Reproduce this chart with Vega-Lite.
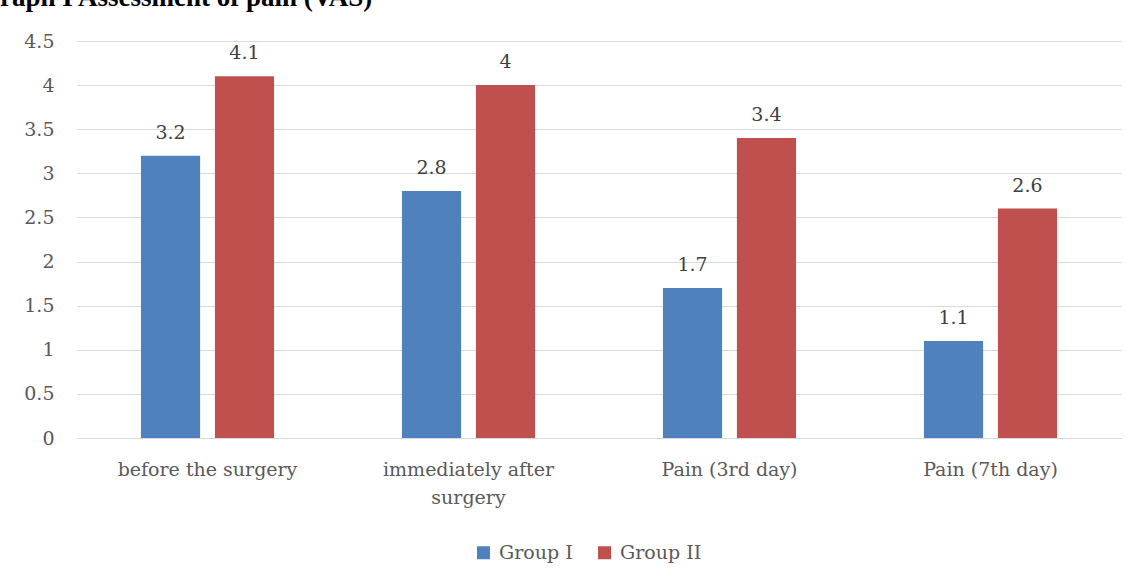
{
  "$schema": "https://vega.github.io/schema/vega-lite/v6.json",
  "autosize": {"type": "none"},
  "width": 1044,
  "height": 397,
  "padding": {"left": 77, "top": 41, "right": 19, "bottom": 142},
  "background": "white",
  "title": {
    "text": "Graph I Assessment of pain (VAS)",
    "anchor": "start",
    "frame": "group",
    "font": "Liberation Serif",
    "fontSize": 27,
    "fontWeight": "bold",
    "color": "black",
    "baseline": "alphabetic",
    "offset": 0,
    "dy": 1,
    "dx": -98
  },
  "config": {"view": {"stroke": null}},
  "data": {
    "values": [
      {"category": "before the surgery", "group": "Group I", "value": 3.2},
      {"category": "before the surgery", "group": "Group II", "value": 4.1},
      {"category": "immediately after surgery", "group": "Group I", "value": 2.8},
      {"category": "immediately after surgery", "group": "Group II", "value": 4},
      {"category": "Pain (3rd day)", "group": "Group I", "value": 1.7},
      {"category": "Pain (3rd day)", "group": "Group II", "value": 3.4},
      {"category": "Pain (7th day)", "group": "Group I", "value": 1.1},
      {"category": "Pain (7th day)", "group": "Group II", "value": 2.6}
    ]
  },
  "encoding": {
    "x": {
      "field": "category",
      "type": "nominal",
      "sort": null,
      "scale": {"paddingInner": 0.49, "paddingOuter": 0.245},
      "axis": {
        "title": null,
        "labelAngle": 0,
        "labelFont": "DejaVu Serif",
        "labelFontSize": 19,
        "labelColor": "#595959",
        "ticks": false,
        "domainColor": "#d9d9d9",
        "domainWidth": 1,
        "labelPadding": 22,
        "labelLineHeight": 28,
        "labelBaseline": "top",
        "labelLimit": 0,
        "labelExpr": "datum.label == 'immediately after surgery' ? ['immediately after', 'surgery'] : datum.label"
      }
    },
    "xOffset": {"field": "group", "type": "nominal", "scale": {"paddingInner": 0.2}},
    "y": {
      "field": "value",
      "type": "quantitative",
      "scale": {"domain": [0, 4.5], "nice": false},
      "axis": {
        "title": null,
        "values": [0, 0.5, 1, 1.5, 2, 2.5, 3, 3.5, 4, 4.5],
        "format": "~g",
        "domain": false,
        "ticks": false,
        "gridColor": "#d9d9d9",
        "gridWidth": 1,
        "labelPadding": 23,
        "labelFont": "DejaVu Serif",
        "labelFontSize": 19,
        "labelColor": "#595959"
      }
    }
  },
  "layer": [
    {
      "mark": {"type": "bar"},
      "encoding": {
        "color": {
          "field": "group",
          "type": "nominal",
          "scale": {"domain": ["Group I", "Group II"], "range": ["#4f81bd", "#c0504d"]},
          "legend": {
            "orient": "none",
            "legendX": 397,
            "legendY": 502,
            "direction": "horizontal",
            "title": null,
            "symbolType": "square",
            "symbolSize": 169,
            "symbolStrokeWidth": 0,
            "symbolOpacity": 1,
            "labelFont": "DejaVu Serif",
            "labelFontSize": 19,
            "labelColor": "#595959",
            "labelOffset": 6,
            "columnPadding": 22
          }
        }
      }
    },
    {
      "mark": {
        "type": "text",
        "baseline": "alphabetic",
        "dy": -17,
        "font": "DejaVu Serif",
        "fontSize": 19,
        "color": "#404040"
      },
      "encoding": {
        "text": {"field": "value", "type": "quantitative", "format": "~g"}
      }
    }
  ]
}
